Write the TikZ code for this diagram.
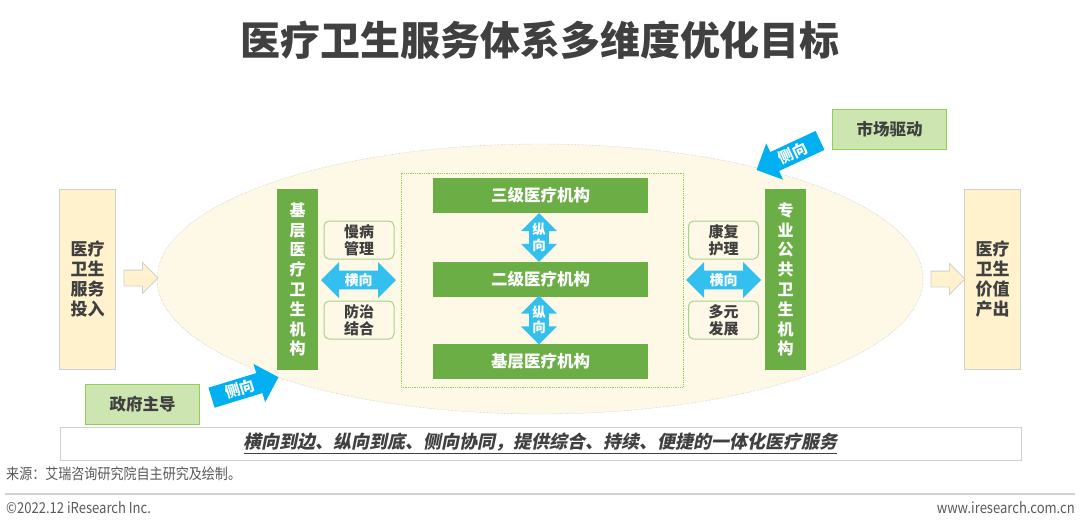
\documentclass[tikz,border=0pt]{standalone}
\usepackage{fontspec}
\setmainfont{Noto Sans CJK SC}
\newfontfamily\slantcjk[FakeSlant=0.2]{Noto Sans CJK SC}
\newfontfamily\narrowcjk[FakeStretch=0.87]{Noto Sans CJK SC}
\usetikzlibrary{shapes.geometric,shapes.arrows,positioning}
\definecolor{txtgray}{RGB}{64,64,64}
\definecolor{srcgray}{RGB}{89,89,89}
\definecolor{boxgray}{RGB}{208,208,208}
\definecolor{creamfill}{RGB}{255,242,204}
\definecolor{ovalfill}{RGB}{254,249,231}
\definecolor{ovalline}{RGB}{170,170,170}
\definecolor{mygreen}{RGB}{106,174,69}
\definecolor{litgreen}{RGB}{169,209,142}
\definecolor{midgreen}{RGB}{146,208,80}
\definecolor{palegreen}{RGB}{205,229,176}
\definecolor{skyblue}{RGB}{51,192,238}
\definecolor{deepblue}{RGB}{0,176,240}
\newcommand{\setfs}[2]{\fontsize{#1}{#2}\selectfont}

\begin{document}
\begin{tikzpicture}[
  x=1pt,y=-1pt,
  every node/.style={text=txtgray,inner sep=0pt},
  inbox/.style={draw=boxgray,fill=creamfill,line width=0.8pt,minimum width=56,
                minimum height=180,align=center,font=\setfs{17}{20}\bfseries},
  greenbar/.style={fill=mygreen,minimum width=41,minimum height=181,align=center,
                   text=white,font=\setfs{16}{19.8}\bfseries},
  levelbox/.style={fill=mygreen,minimum width=215,minimum height=35,
                   text=white,font=\setfs{16.5}{20}\bfseries},
  subbox/.style={draw=litgreen,line width=1pt,rounded corners=5pt,fill=ovalfill,
                 minimum width=70,minimum height=38,align=center,font=\setfs{15}{17}\bfseries},
  drvbox/.style={draw=midgreen,fill=palegreen,line width=1pt,minimum width=114,
                 minimum height=40,font=\setfs{16.5}{20}\bfseries},
  harr/.style={double arrow,fill=skyblue,minimum height=75,minimum width=36,
               inner ysep=2pt,double arrow head extend=8,
               text=white,font=\setfs{14}{16}\bfseries},
  varr/.style={double arrow,shape border rotate=90,fill=skyblue,minimum height=46,
               minimum width=36,inner xsep=3pt,double arrow head extend=8,align=center,
               text=white,font=\setfs{13.5}{15.5}\bfseries},
  sarr/.style={single arrow,fill=deepblue,minimum height=70,minimum width=40,
               inner ysep=2.5pt,inner xsep=2pt,single arrow head extend=9,
               text=white,font=\setfs{15}{17}\bfseries},
  flowarr/.style={single arrow,draw=boxgray,fill=creamfill,line width=0.8pt,
                  minimum height=34,minimum width=30,inner ysep=7.5pt,
                  single arrow head extend=7.5},
]
  \useasboundingbox (0,0) rectangle (1080,528);

  % title
  \node[font=\setfs{40}{48}\bfseries] (title) at (540,40) {医疗卫生服务体系多维度优化目标};

  % big oval and tier frame
  \node[ellipse,draw=ovalline,densely dotted,fill=ovalfill,minimum width=766,
        minimum height=270] (oval) at (540,279) {};
  \node[draw=midgreen,densely dotted,line width=0.8pt,minimum width=282,
        minimum height=214] (tiers) at (542,280) {};

  % input and output
  \node[inbox] (input)  at (87.5,279.5)  {医疗\\卫生\\服务\\投入};
  \node[inbox] (output) at (992.5,279.5) {医疗\\卫生\\价值\\产出};
  \node[flowarr] (inarr)  at (137,278) {};
  \node[flowarr] (outarr) at (944,279) {};

  % side bars
  \node[greenbar] (basebar) at (297.5,279.5) {基\\层\\医\\疗\\卫\\生\\机\\构};
  \node[greenbar] (probar)  at (785.5,279.5) {专\\业\\公\\共\\卫\\生\\机\\构};

  % left functions
  \node[subbox] (chronic) at (359,240) {慢病\\管理};
  \node[subbox] (prevent) at (359,320) {防治\\结合};
  \node[harr]   (lhoriz)  at (358.5,280) {横向};

  % right functions
  \node[subbox] (rehab)   at (723.5,240) {康复\\护理};
  \node[subbox] (multi)   at (723.5,320) {多元\\发展};
  \node[harr]   (rhoriz)  at (723.5,280) {横向};

  % tiers
  \node[levelbox] (tier3) at (540.5,195.5) {三级医疗机构};
  \node[levelbox] (tier2) at (540.5,279)   {二级医疗机构};
  \node[levelbox] (tier1) at (540.5,361.5) {基层医疗机构};
  \node[varr] (v32) at (539,237.5) {纵\\向};
  \node[varr] (v21) at (539,320)   {纵\\向};

  % drivers
  \node[drvbox] (gov)    at (142.5,404.5) {政府主导};
  \node[drvbox] (market) at (889.5,129)   {市场驱动};
  \node[sarr,rotate=17] (govarr) at (240,389) {侧向};
  \node[sarr,shape border rotate=180,rotate=25] (mktarr) at (793,153) {侧向};

  % summary banner
  \node[draw=boxgray,line width=0.8pt,minimum width=961,minimum height=33,
        font=\slantcjk\setfs{18}{22}\bfseries] (banner) at (540.5,443.5)
        {\underline{横向到边、纵向到底、侧向协同，提供综合、持续、便捷的一体化医疗服务}};

  % source and footer
  \node[anchor=west,text=srcgray,font=\narrowcjk\setfs{15}{18}] (src) at (6,474)
        {来源：艾瑞咨询研究院自主研究及绘制。};
  \coordinate (ruleL) at (5,494);
  \coordinate (ruleR) at (1075,494);
  \draw[boxgray,line width=1.2pt] (ruleL) -- (ruleR);
  \node[anchor=west,text=srcgray,font=\narrowcjk\setfs{15}{18}] (copy) at (6,508)
        {©2022.12 iResearch Inc.};
  \node[anchor=east,text=srcgray,font=\narrowcjk\setfs{15}{18}] (web) at (1075,508)
        {www.iresearch.com.cn};
\end{tikzpicture}
\end{document}
